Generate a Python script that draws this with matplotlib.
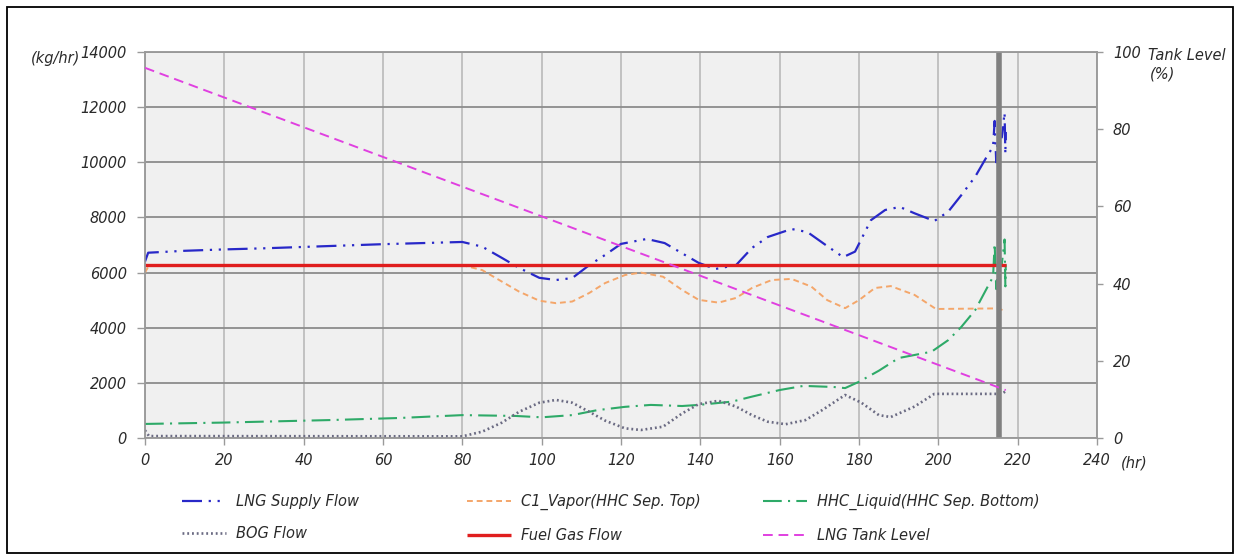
import matplotlib
matplotlib.use("Agg")
import matplotlib.pyplot as plt
from matplotlib.patches import Rectangle

plt.rcParams['font.family'] = ['DejaVu Sans']
plt.rcParams['font.style'] = 'italic'

# ---------------- data ----------------
lng_hr = [0, 0.8, 10, 20, 30, 40, 50, 60, 70, 80, 85, 90, 94.3, 99.4, 103.6, 107.7, 112, 116, 120,
          126.5, 131, 135.4, 139.6, 143.8, 149, 153, 157, 163, 167, 171.6, 176, 179, 183, 186.6,
          190.3, 194, 199, 202.5, 205.8, 209.3, 212, 213.8, 214.2, 214.6, 215.2, 216, 216.7, 216.9, 217]
lng_flow = [6400, 6720, 6790, 6840, 6880, 6930, 6980, 7030, 7070, 7110, 6940, 6530, 6170, 5810, 5730,
            5800, 6270, 6640, 7040, 7220, 7070, 6700, 6350, 6130, 6270, 6890, 7290, 7580, 7470, 7000,
            6560, 6760, 7900, 8270, 8380, 8150, 7870, 8210, 8810, 9480, 10150, 10570, 11500, 10000,
            11200, 10900, 11800, 10300, 11100]

c1_hr = [0, 1, 80, 85, 90, 94.3, 99.4, 103.6, 107.7, 112, 116, 121, 125, 130.6, 135.4, 139.6, 144.6,
         149, 153, 158, 163, 168, 172, 176.5, 180, 184, 188, 194, 199.4, 215, 217]
c1_vapor = [6000, 6260, 6270, 6090, 5670, 5310, 4980, 4890, 4950, 5260, 5620, 5910, 6000, 5850, 5370,
            5010, 4910, 5080, 5440, 5730, 5770, 5490, 5000, 4710, 5000, 5440, 5510, 5190, 4680, 4700, 4600]

hhc_hr = [0, 20, 46.5, 64, 80, 93.4, 100, 107.7, 114, 121, 127.5, 135.4, 139.6, 148, 153, 160, 166,
          173.6, 176.5, 180, 185, 190, 198.3, 202.5, 205.8, 209.3, 212, 213.8, 214.2, 214.6, 215.2,
          216, 216.7, 216.9, 217]
hhc_liquid = [510, 560, 650, 725, 830, 800, 750, 830, 1010, 1130, 1200, 1160, 1200, 1320, 1500, 1740,
              1890, 1850, 1810, 2040, 2440, 2900, 3130, 3550, 4030, 4640, 5370, 5850, 7050, 5400, 6500,
              6300, 7200, 5500, 6300]

bog_hr = [0, 1, 80, 85, 90, 94.3, 99.4, 103.6, 107.7, 112, 116, 121, 125, 130.6, 135.4, 139.6, 144.6,
          149, 153, 157, 161.5, 166.5, 170.7, 176.5, 180.6, 185, 188, 194, 199, 216, 217]
bog_flow = [280, 70, 60, 230, 560, 950, 1280, 1380, 1280, 950, 630, 350, 290, 410, 890, 1230, 1350,
            1140, 830, 590, 500, 650, 1010, 1560, 1280, 830, 760, 1140, 1600, 1600, 1700]

fuel_hr = [0, 217]
fuel_gas = [6290, 6290]

tank_hr = [0, 217]
tank_level = [95.9, 12.4]

x_ticks = [0, 20, 40, 60, 80, 100, 120, 140, 160, 180, 200, 220, 240]
y_ticks = [0, 2000, 4000, 6000, 8000, 10000, 12000, 14000]
y2_ticks = [0, 20, 40, 60, 80, 100]
marker_hr = 215.2

# ---------------- figure ----------------
W, H = 1239, 556
fig = plt.figure(figsize=(W / 100, H / 100), dpi=100)
fig.patch.set_facecolor('white')
ax = fig.add_axes([145 / W, 1 - 438 / H, (1097 - 145) / W, (438 - 52) / H])
ax.set_facecolor('#f0f0f0')
ax2 = ax.twinx()

txt = '#2a2a2a'
fs = 10.5

c_lng = '#2828c8'
c_c1 = '#f4a66a'
c_hhc = '#2eaa68'
c_bog = '#6a6a82'
c_fuel = '#e01e1e'
c_tank = '#e040e0'

l1, = ax.plot(lng_hr, lng_flow, color=c_lng, lw=1.6, dashes=(9, 3, 1, 3, 1, 3),
              label='LNG Supply Flow', zorder=4)
l2, = ax.plot(c1_hr, c1_vapor, color=c_c1, lw=1.4, dashes=(3, 2),
              label='C1_Vapor(HHC Sep. Top)', zorder=3)
l3, = ax.plot(hhc_hr, hhc_liquid, color=c_hhc, lw=1.5, dashes=(9, 3, 1, 3),
              label='HHC_Liquid(HHC Sep. Bottom)', zorder=3)
l4, = ax.plot(bog_hr, bog_flow, color=c_bog, lw=1.9, dashes=(0.7, 1.1),
              label='BOG Flow', zorder=3)
l5, = ax.plot(fuel_hr, fuel_gas, color=c_fuel, lw=2.4, solid_capstyle='butt',
              label='Fuel Gas Flow', zorder=5)
l6, = ax2.plot(tank_hr, tank_level, color=c_tank, lw=1.4, dashes=(5, 3),
               label='LNG Tank Level', zorder=3)

ax.axvline(marker_hr, color='#808080', lw=4.0, zorder=6)

ax.set_xlim(0, 240)
ax.set_ylim(0, 14000)
ax2.set_ylim(0, 100)
ax.set_xticks(x_ticks)
ax.set_yticks(y_ticks)
ax2.set_yticks(y2_ticks)

ax.grid(axis='y', color='#8c8c8c', lw=1.3, zorder=0)
ax.grid(axis='x', color='#b4b4b4', lw=1.1, zorder=0)
ax.set_axisbelow(True)

for a in (ax, ax2):
    for s in a.spines.values():
        s.set_color('#9a9a9a')
        s.set_linewidth(1.1)
    a.tick_params(colors='#9a9a9a', labelcolor=txt, labelsize=fs, width=1.0)
ax.tick_params(axis='y', length=6, pad=7)
ax.tick_params(axis='x', length=5, pad=6)
ax2.tick_params(axis='y', length=4.5, pad=7)
ax.set_xticklabels([str(v) for v in x_ticks])
ax.set_yticklabels([str(v) for v in y_ticks])
ax2.set_yticklabels([str(v) for v in y2_ticks])

# axis unit labels
fig.text(80 / W, 1 - 58 / H, '(kg/hr)', ha='right', va='center', fontsize=fs, color=txt)
fig.text(1148 / W, 1 - 55 / H, 'Tank Level', ha='left', va='center', fontsize=fs, color=txt)
fig.text(1150 / W, 1 - 74 / H, '(%)', ha='left', va='center', fontsize=fs, color=txt)
fig.text(1121 / W, 1 - 463 / H, '(hr)', ha='left', va='center', fontsize=fs, color=txt)

# legends: three columns
cols = [([l1, l4], 182), ([l2, l5], 467), ([l3, l6], 763)]
for handles, xpx in cols:
    leg = fig.legend(handles=handles, loc='upper left',
                     bbox_to_anchor=(xpx / W, 1 - 494 / H),
                     frameon=False, fontsize=fs, handlelength=3.0, handletextpad=0.7,
                     labelspacing=1.2, borderpad=0.0, borderaxespad=0.0)
    for t in leg.get_texts():
        t.set_color(txt)

# outer border
fig.patches.append(Rectangle((7 / W, 1 - 553 / H), (1233 - 7) / W, (553 - 7) / H,
                             transform=fig.transFigure, fill=False, edgecolor='black', lw=1.3))

fig.savefig('out.png', dpi=100)
